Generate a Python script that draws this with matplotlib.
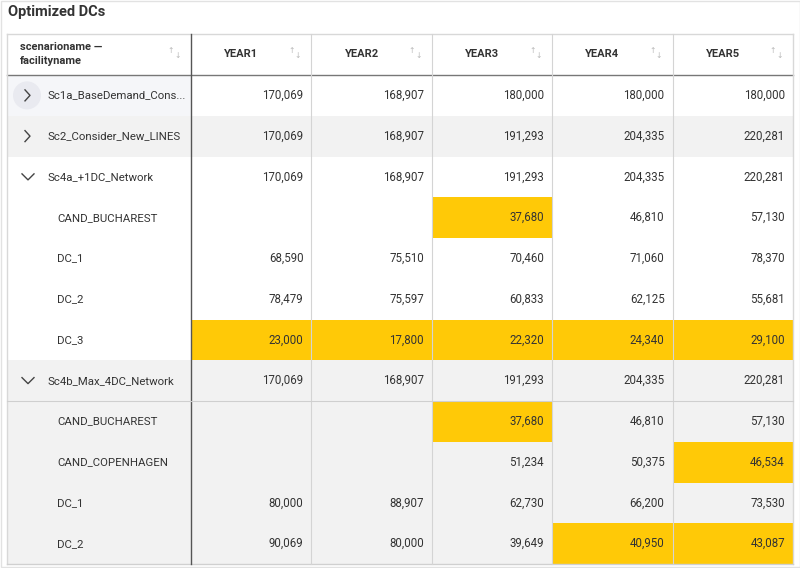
import matplotlib.pyplot as plt
from matplotlib.patches import Rectangle, Circle

plt.rcParams['font.family'] = ['Roboto', 'DejaVu Sans']

title = "Optimized DCs"
columns = ["YEAR1", "YEAR2", "YEAR3", "YEAR4", "YEAR5"]

# level 0 = scenario, 1 = facility
row_labels = ["Sc1a_BaseDemand_Cons...", "Sc2_Consider_New_LINES", "Sc4a_+1DC_Network",
              "CAND_BUCHAREST", "DC_1", "DC_2", "DC_3",
              "Sc4b_Max_4DC_Network",
              "CAND_BUCHAREST", "CAND_COPENHAGEN", "DC_1", "DC_2"]
row_levels = [0, 0, 0, 1, 1, 1, 1, 0, 1, 1, 1, 1]
row_expanded = [False, False, True, None, None, None, None, True, None, None, None, None]
row_group = [0, 1, 2, 2, 2, 2, 2, 3, 3, 3, 3, 3]

values = [
    [170069, 168907, 180000, 180000, 180000],
    [170069, 168907, 191293, 204335, 220281],
    [170069, 168907, 191293, 204335, 220281],
    [None, None, 37680, 46810, 57130],
    [68590, 75510, 70460, 71060, 78370],
    [78479, 75597, 60833, 62125, 55681],
    [23000, 17800, 22320, 24340, 29100],
    [170069, 168907, 191293, 204335, 220281],
    [None, None, 37680, 46810, 57130],
    [None, None, 51234, 50375, 46534],
    [80000, 88907, 62730, 66200, 73530],
    [90069, 80000, 39649, 40950, 43087],
]

# (row, col) cells flagged in yellow
highlighted = [(3, 2), (6, 0), (6, 1), (6, 2), (6, 3), (6, 4),
               (8, 2), (9, 4), (11, 3), (11, 4)]

YELLOW = "#ffc907"
GRAY = "#f2f2f2"
TEXT = "#333333"

fig = plt.figure(figsize=(8, 5.68), dpi=100)
ax = fig.add_axes([0, 0, 1, 1])
ax.set_xlim(0, 800)
ax.set_ylim(568, 0)
ax.axis('off')

# layout in pixels
left, right = 7, 793
first_w = 184
col_w = (right - left - first_w) / len(columns)
head_top, head_bot = 34, 75
row_h = 40.75

col_x = [left, left + first_w] + [left + first_w + col_w * (i + 1) for i in range(len(columns))]

# outer frame
ax.add_patch(Rectangle((0.5, 0.5), 799, 566, fill=False, ec="#e2e2e2", lw=1))
ax.text(8, 12, title, fontsize=10.5, fontweight='bold', color="#333333", va='center', ha='left')

# row backgrounds
for r in range(len(row_labels)):
    y0 = head_bot + r * row_h
    bg = GRAY if row_group[r] % 2 == 1 else "white"
    ax.add_patch(Rectangle((left, y0), right - left, row_h, fc=bg, ec='none'))
    if r == 0:
        ax.add_patch(Rectangle((left, y0), first_w, row_h, fc="#f5f6f9", ec='none'))

for (r, c) in highlighted:
    y0 = head_bot + r * row_h
    ax.add_patch(Rectangle((col_x[c + 1], y0), col_w, row_h, fc=YELLOW, ec='none'))

# grid lines
bottom = head_bot + len(row_labels) * row_h
ax.plot([left, right], [head_top, head_top], color="#d8d8d8", lw=1)
ax.plot([left, right], [head_bot, head_bot], color="#777777", lw=1)
ax.plot([left, left], [head_top, bottom], color="#d8d8d8", lw=1)
ax.plot([right, right], [head_top, bottom], color="#d8d8d8", lw=1)
ax.plot([left, right], [bottom, bottom], color="#d0d0d0", lw=1)
for x in col_x[2:-1]:
    ax.plot([x, x], [head_top, bottom], color="#d4d4d4", lw=0.8)
ax.plot([col_x[1], col_x[1]], [head_top, bottom], color="#555555", lw=1)
sc4b = row_labels.index("Sc4b_Max_4DC_Network")
yline = head_bot + (sc4b + 1) * row_h
ax.plot([left, right], [yline, yline], color="#cfcfcf", lw=0.8)

# header
def sort_icon(x, y):
    ax.text(x, y - 3, "\u2191", fontsize=5.5, color="#b8b8b8", ha='center', va='center')
    ax.text(x + 6.5, y + 2.5, "\u2193", fontsize=5.5, color="#b8b8b8", ha='center', va='center')

ax.text(20, 47, "scenarioname \u2014", fontsize=8, fontweight='bold', color=TEXT, va='center')
ax.text(20, 61, "facilityname", fontsize=8, fontweight='bold', color=TEXT, va='center')
sort_icon(col_x[1] - 20, 54)
for i, name in enumerate(columns):
    cx = col_x[i + 1] + col_w / 2 - 10
    ax.text(cx, 54, name, fontsize=8, fontweight='bold', color=TEXT, ha='center', va='center')
    sort_icon(col_x[i + 2] - 20, 54)

# rows
for r, label in enumerate(row_labels):
    yc = head_bot + r * row_h + row_h / 2
    if row_levels[r] == 0:
        ax.text(48, yc, label, fontsize=8.2, color=TEXT, va='center', ha='left')
        if r == 0:
            ax.add_patch(Circle((27, yc), 14, fc="#e9eaf0", ec='none'))
        if row_expanded[r]:
            ax.plot([22, 28, 34], [yc - 3, yc + 3, yc - 3], color="#444444", lw=1)
        else:
            ax.plot([25, 30, 25], [yc - 5.5, yc, yc + 5.5], color="#444444", lw=1)
    else:
        ax.text(57, yc, label, fontsize=8.2, color=TEXT, va='center', ha='left')
    for c, v in enumerate(values[r]):
        if v is not None:
            ax.text(col_x[c + 2] - 8, yc, f"{v:,}", fontsize=8.3, color=TEXT,
                    va='center', ha='right')

fig.savefig("out.png", dpi=100)
